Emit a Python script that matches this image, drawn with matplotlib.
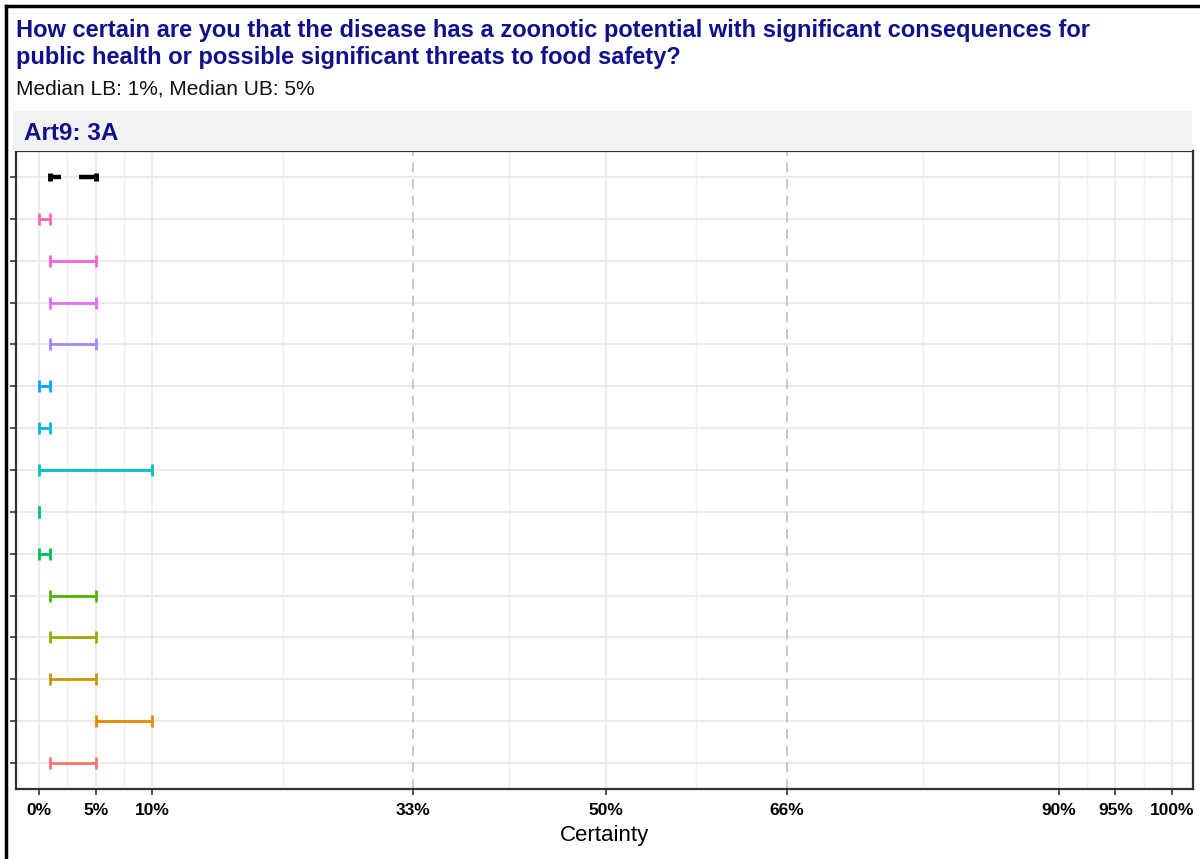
import numpy as np
import matplotlib
matplotlib.use("Agg")
import matplotlib.pyplot as plt
from matplotlib.patches import Rectangle
from matplotlib.lines import Line2D

# ---- data ----
# rows from top to bottom; first row is the median interval
row_colors = ["#000000", "#FF66A8", "#FB61D7", "#DF70F8", "#A58AFF", "#06A4FF",
              "#00B6EB", "#00BFC4", "#00C094", "#00BC56", "#53B400", "#99A800",
              "#C49A00", "#E38900", "#F8766D"]
lower = [1, 0, 1, 1, 1, 0, 0, 0, 0, 0, 1, 1, 1, 5, 1]
upper = [5, 1, 5, 5, 5, 1, 1, 10, 0, 1, 5, 5, 5, 10, 5]
x_breaks = [0, 5, 10, 33, 50, 66, 90, 95, 100]
x_labels = ["0%", "5%", "10%", "33%", "50%", "66%", "90%", "95%", "100%"]
dashed_at = [33, 66]

title = ("How certain are you that the disease has a zoonotic potential with significant consequences for\n"
         "public health or possible significant threats to food safety?")
subtitle = "Median LB: 1%, Median UB: 5%"
strip = "Art9: 3A"

NAVY = "#10108A"
plt.rcParams["font.family"] = ["Liberation Sans", "DejaVu Sans"]

W, H = 1200, 859
fig = plt.figure(figsize=(W / 100, H / 100), dpi=100)

# panel placement in pixels
px0, px1, py0, py1 = 16, 1193, 151, 789
ax = fig.add_axes([px0 / W, 1 - py1 / H, (px1 - px0) / W, (py1 - py0) / H])

n = len(lower)
ypos = np.arange(n, 0, -1)  # top row -> highest y

# grid
minor = [(a + b) / 2 for a, b in zip(x_breaks[:-1], x_breaks[1:])]
for xv in minor:
    ax.axvline(xv, color="#EFEFEF", lw=1.0, zorder=0)
for xv in x_breaks:
    if xv in dashed_at:
        ax.axvline(xv, color="#BDBDBD", lw=1.2, ls=(0, (6, 4)), zorder=1)
    else:
        ax.axvline(xv, color="#EBEBEB", lw=1.5, zorder=0)
for yv in ypos:
    ax.axhline(yv, color="#EBEBEB", lw=1.5, zorder=0)

# intervals
for i in range(n):
    y = ypos[i]
    if i == 0:
        # median row: only short stubs with outer caps, drawn heavier
        ax.plot([lower[i], lower[i] + 0.9], [y, y], color=row_colors[i], lw=3.2,
                solid_capstyle="butt", zorder=3)
        ax.plot([upper[i] - 1.5, upper[i]], [y, y], color=row_colors[i], lw=3.2,
                solid_capstyle="butt", zorder=3)
        for xv in (lower[i], upper[i]):
            ax.plot([xv, xv], [y - 0.09, y + 0.09], color=row_colors[i], lw=3.5,
                    solid_capstyle="butt", zorder=3)
    else:
        half = (upper[i] - lower[i]) / 2
        ax.errorbar(lower[i] + half, y, xerr=[[half], [half]],
                    fmt="none", ecolor=row_colors[i], elinewidth=2.0, capsize=4,
                    capthick=2.0, zorder=3)

ax.set_xlim(-2.03, 101.85)
ax.set_ylim(0.38, n + 0.62)
ax.set_xticks(x_breaks)
ax.set_xticklabels(x_labels, fontweight="bold", fontsize=12.5)
ax.set_yticks(ypos)
ax.set_yticklabels([])
ax.tick_params(axis="x", length=4, width=1.2, color="#333333", pad=6)
ax.tick_params(axis="y", length=4, width=1.2, color="#333333")
for s in ax.spines.values():
    s.set_color("#333333")
    s.set_linewidth(1.6)
ax.set_xlabel("Certainty", fontsize=16, labelpad=5)

# facet strip
fig.patches.append(Rectangle((13 / W, 1 - 151 / H), (1192 - 13) / W, 40 / H,
                             transform=fig.transFigure, facecolor="#F2F2F2",
                             edgecolor="none", zorder=0))
fig.text(24 / W, 1 - 133 / H, strip, color=NAVY, fontsize=17.5, fontweight="bold",
         va="center", ha="left")

# title and subtitle
fig.text(16 / W, 1 - 19 / H, title, color=NAVY, fontsize=17, fontweight="bold",
         va="top", ha="left", linespacing=1.22)
fig.text(16 / W, 1 - 89 / H, subtitle, color="#111111", fontsize=15, va="center", ha="left")

# screenshot frame (top and left edges)
fig.add_artist(Line2D([6 / W, 6 / W], [0, 1 - 6 / H], transform=fig.transFigure,
                      color="black", lw=2.5))
fig.add_artist(Line2D([6 / W, 1], [1 - 6 / H, 1 - 6 / H], transform=fig.transFigure,
                      color="black", lw=2.5))

fig.savefig("out.png", dpi=100)
